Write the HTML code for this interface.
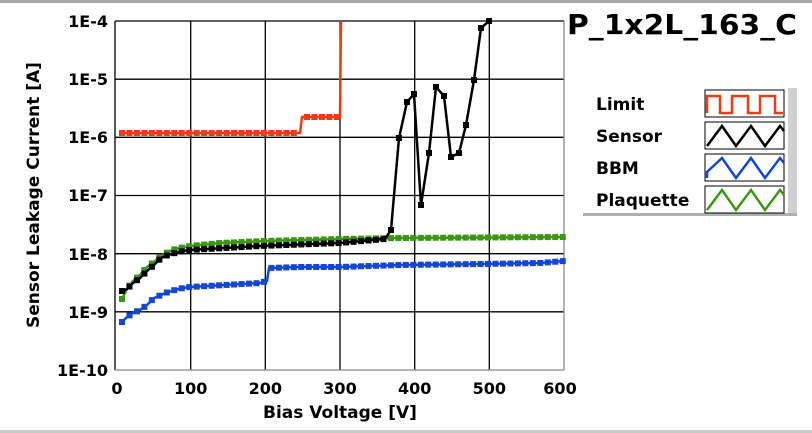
<!DOCTYPE html>
<html><head><meta charset="utf-8"><style>
body{margin:0;background:#fff;}
svg{display:block;font-family:"DejaVu Sans","Liberation Sans",sans-serif;font-weight:bold;}
</style></head><body>
<svg id="s" width="812" height="433" viewBox="0 0 812 433">
<rect x="0" y="0" width="812" height="433" fill="#fff"/>
<rect x="0" y="0" width="812" height="3" fill="#a8a8a8"/>
<rect x="0" y="430" width="812" height="3" fill="#c8c8c8"/>
<g stroke="#000" stroke-width="1.3">
<line x1="190.7" y1="21" x2="190.7" y2="370"/><line x1="265.3" y1="21" x2="265.3" y2="370"/>
<line x1="340" y1="21" x2="340" y2="370"/><line x1="414.7" y1="21" x2="414.7" y2="370"/>
<line x1="489.3" y1="21" x2="489.3" y2="370"/>
<line x1="115" y1="79.2" x2="564" y2="79.2"/><line x1="115" y1="137.3" x2="564" y2="137.3"/>
<line x1="115" y1="195.5" x2="564" y2="195.5"/><line x1="115" y1="253.7" x2="564" y2="253.7"/>
<line x1="115" y1="311.8" x2="564" y2="311.8"/>
<line x1="115" y1="21" x2="564" y2="21"/><line x1="115" y1="21" x2="115" y2="370"/>
</g>
<g stroke="#888" stroke-width="1.3"><line x1="115" y1="370" x2="564" y2="370"/><line x1="564" y1="21" x2="564" y2="370"/></g>
<g id="data"></g>
<g font-size="16" text-anchor="end" fill="#000">
<text x="108" y="27">1E-4</text><text x="108" y="85">1E-5</text><text x="108" y="143">1E-6</text>
<text x="108" y="201">1E-7</text><text x="108" y="260">1E-8</text><text x="108" y="318">1E-9</text>
<text x="108" y="376">1E-10</text>
</g>
<g font-size="16" text-anchor="middle">
<text x="117" y="394">0</text><text x="190.7" y="394">100</text><text x="265.3" y="394">200</text>
<text x="340" y="394">300</text><text x="414.7" y="394">400</text><text x="489.3" y="394">500</text><text x="560" y="394">600</text>
<text x="340" y="418" font-size="17">Bias Voltage [V]</text>
<text transform="translate(39,195) rotate(-90)" font-size="17">Sensor Leakage Current [A]</text>
</g>
<text x="567" y="34" font-size="27.5" textLength="230" lengthAdjust="spacingAndGlyphs">P_1x2L_163_C</text>
<rect x="788" y="88" width="9" height="128" fill="#d0d0d0"/>
<rect x="583" y="213" width="214" height="3" fill="#b0b0b0"/>
<g font-size="17"><text x="596" y="110">Limit</text><text x="596" y="142">Sensor</text><text x="596" y="174">BBM</text><text x="596" y="206">Plaquette</text></g>
<g fill="#fff" stroke="#000" stroke-width="1">
<rect x="705" y="90" width="79" height="27"/><rect x="705" y="122" width="79" height="27"/>
<rect x="705" y="154" width="79" height="27"/><rect x="705" y="186" width="79" height="27"/>
</g>
<g fill="none" stroke-width="2.5">
<polyline stroke="#f03c14" points="707,113 707,96 720,96 720,113 732,113 732,96 735,96 748,96 748,113 760,113 760,96 775,96 775,113 783,113"/>
<polyline stroke="#000" points="707,146 722,126 736,146 751,126 765,146 780,126 784,131"/>
<polyline stroke="#1446d2" points="707,178 707,172 722,158 736,178 751,158 765,178 780,158 784,163"/>
<polyline stroke="#3c9614" points="707,210 722,190 736,210 751,190 765,210 780,190 784,195"/>
</g>
</svg>
<script>
const g=document.getElementById('data');
const NS="http://www.w3.org/2000/svg";
function interp(pts,step){let out=[];for(let x=pts[0][0];x<=pts[pts.length-1][0]+0.01;x+=step){for(let i=0;i<pts.length-1;i++){if(x>=pts[i][0]&&x<=pts[i+1][0]){let t=(x-pts[i][0])/((pts[i+1][0]-pts[i][0])||1);out.push([x,pts[i][1]+t*(pts[i+1][1]-pts[i][1])]);break;}}}return out;}
function draw(pts,col,mk){let pl=document.createElementNS(NS,'polyline');pl.setAttribute('points',pts.map(p=>p.join(',')).join(' '));pl.setAttribute('fill','none');pl.setAttribute('stroke',col);pl.setAttribute('stroke-width','2.5');g.appendChild(pl);
for(const p of mk){let r=document.createElementNS(NS,'rect');r.setAttribute('x',p[0]-3);r.setAttribute('y',p[1]-3);r.setAttribute('width',6);r.setAttribute('height',6);r.setAttribute('fill',col);g.appendChild(r);}}
const green=[[122,299],[127,289],[133,281],[140,275],[147,267],[154,262],[161,256],[168,252],[175,249],[190,246],[220,243],[265,241],[340,239],[400,238],[564,237]];
draw(green,'#3c9614',interp(green,7.47));
const blue=[[122,322],[127,317],[133,313],[140,310],[147,305],[154,298],[161,295],[168,292],[175,290],[183,288],[190,287],[260,283],[267,281],[269,268],[300,267],[340,267],[400,265],[480,264],[540,263],[564,261]];
draw(blue,'#1446d2',interp(blue,7.47));
const bl1=[[122,291],[127,289],[133,283],[140,278],[147,271],[154,265],[161,258],[168,255],[175,253],[183,251],[190,250],[260,246],[340,243],[385,239]];
const bl2=[[391,230],[399,138],[407,102],[414,94],[421,205],[429,153],[436,87],[444,96],[451,157],[459,153],[466,125],[474,80],[481,28],[489,21]];
draw(bl1.concat(bl2),'#000',interp(bl1,7.47).concat(bl2));
const lim=[[122,133],[300,133],[302,117],[340,117],[341,21]];
draw(lim,'#f03c14',interp([[122,133],[300,133]],7.47).concat(interp([[307,117],[340,117]],7.47)));
</script>
</body></html>
